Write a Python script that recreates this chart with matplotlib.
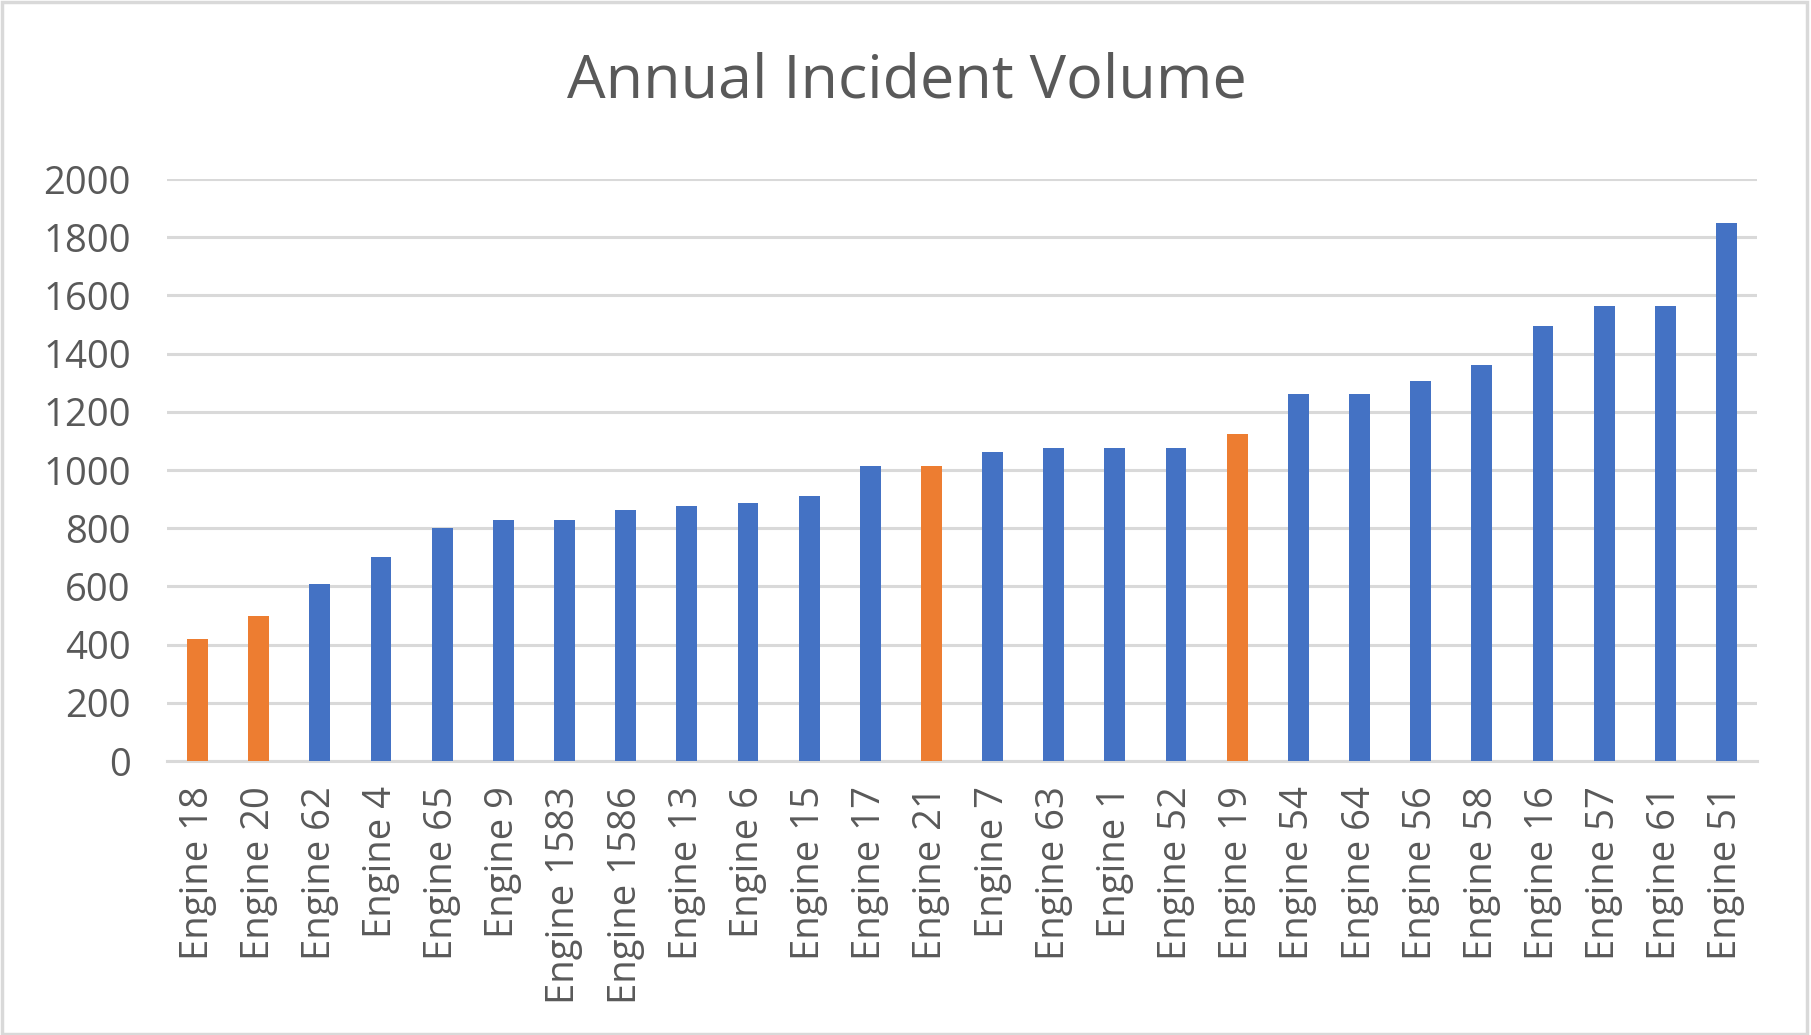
import matplotlib.pyplot as plt
from matplotlib.patches import Rectangle

engines = ["Engine 18", "Engine 20", "Engine 62", "Engine 4", "Engine 65", "Engine 9",
           "Engine 1583", "Engine 1586", "Engine 13", "Engine 6", "Engine 15", "Engine 17",
           "Engine 21", "Engine 7", "Engine 63", "Engine 1", "Engine 52", "Engine 19",
           "Engine 54", "Engine 64", "Engine 56", "Engine 58", "Engine 16", "Engine 57",
           "Engine 61", "Engine 51"]
incidents = [420, 500, 610, 700, 800, 830, 830, 862, 878, 888, 910, 1013, 1013, 1062,
             1076, 1076, 1076, 1123, 1260, 1260, 1305, 1360, 1495, 1565, 1565, 1850]
highlight = ["Engine 18", "Engine 20", "Engine 21", "Engine 19"]

blue = "#4472C4"
orange = "#ED7D31"
grid = "#D9D9D9"
txt = "#595959"

plt.rcParams['font.family'] = ['Open Sans', 'DejaVu Sans']

fig = plt.figure(figsize=(18.11, 10.35), dpi=100)
ax = fig.add_axes([0.0922, 0.2647, 0.878, 0.5623])

colors = [orange if e in highlight else blue for e in engines]
ax.bar(range(len(engines)), incidents, width=0.34, color=colors, zorder=3)

ax.set_xlim(-0.5, len(engines) - 0.5)
ax.set_ylim(0, 2000)
ax.set_yticks(range(0, 2001, 200))
ax.set_xticks(range(len(engines)))
ax.set_xticklabels(engines, rotation=90)
ax.yaxis.grid(True, color=grid, linewidth=2.2, zorder=0)
ax.tick_params(axis='both', length=0, labelcolor=txt, labelsize=27.5)
ax.tick_params(axis='y', pad=26)
ax.tick_params(axis='x', pad=18)
for s in ['top', 'right', 'left']:
    ax.spines[s].set_visible(False)
ax.spines['bottom'].set_color(grid)
ax.spines['bottom'].set_linewidth(2.2)

fig.text(0.501, 0.921, "Annual Incident Volume", ha='center', va='center',
         fontsize=44, color=txt)

fig.patches.append(Rectangle((0.001, 0.001), 0.997, 0.997, transform=fig.transFigure,
                             fill=False, edgecolor=grid, linewidth=2.5))

fig.savefig("out.png", dpi=100, facecolor="white")
